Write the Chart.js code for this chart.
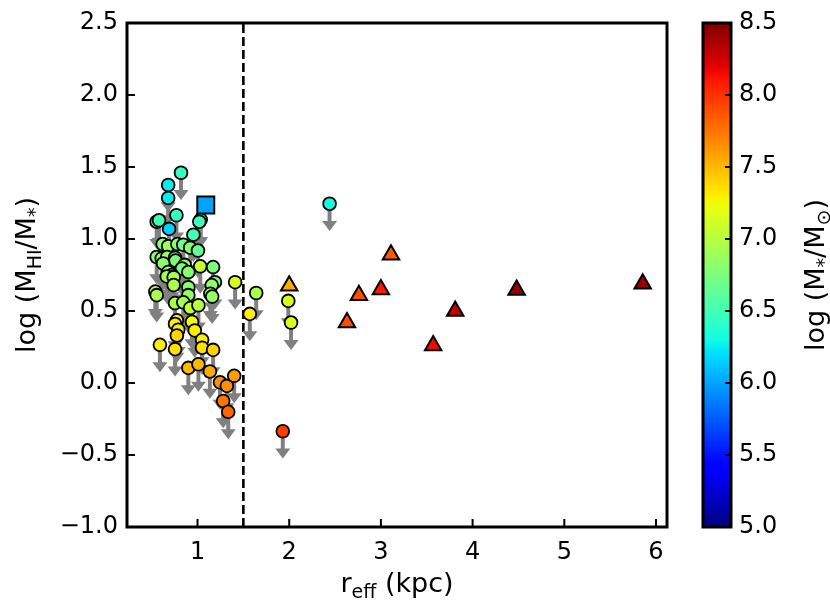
<!DOCTYPE html>
<html>
<head>
<meta charset="utf-8">
<script src="https://cdn.jsdelivr.net/npm/chart.js@4.4.1/dist/chart.umd.min.js"></script>
<style>
  html, body { margin: 0; padding: 0; background: #fff; }
</style>
</head>
<body>
<canvas id="myChart" width="830" height="613"></canvas>
<script>
// galaxies with HI upper limits (circles)
const circleX = [0.82, 0.68, 0.68, 0.77, 0.555, 0.58, 0.69, 1.035, 1.02, 0.955, 2.44,
  0.62, 0.68, 0.78, 0.845, 0.92, 1.005,
  0.555, 0.61, 0.67, 0.755, 0.76,
  0.625, 0.86, 0.83, 1.03, 1.17,
  0.68, 0.72, 0.665, 0.90, 0.74,
  1.19, 1.155, 1.41, 0.74, 0.90,
  0.54, 0.555, 1.14, 1.16, 0.90, 1.64,
  0.755, 0.845, 0.92, 1.01, 1.99, 2.02, 1.57,
  0.775, 0.755, 0.94, 0.97, 0.79, 0.775, 1.05, 0.59, 0.755, 1.05, 1.17,
  0.90, 1.01, 1.135, 1.245, 1.32, 1.40, 1.28, 1.335, 1.93];
const circleY = [1.46, 1.375, 1.285, 1.165, 1.12, 1.13, 1.07, 1.135, 1.12, 1.03, 1.245,
  0.965, 0.95, 0.965, 0.96, 0.94, 0.92,
  0.875, 0.865, 0.875, 0.87, 0.85,
  0.83, 0.82, 0.795, 0.81, 0.805,
  0.77, 0.75, 0.74, 0.77, 0.735,
  0.70, 0.68, 0.70, 0.68, 0.665,
  0.635, 0.61, 0.62, 0.60, 0.61, 0.625,
  0.555, 0.56, 0.52, 0.54, 0.57, 0.42, 0.48,
  0.435, 0.41, 0.425, 0.365, 0.37, 0.33, 0.30, 0.265, 0.235, 0.245, 0.23,
  0.105, 0.13, 0.08, 0.005, -0.02, 0.05, -0.125, -0.20, -0.335];
const circleMass = [6.45, 6.25, 6.25, 6.45, 6.55, 6.5, 6.15, 6.5, 6.5, 6.5, 6.3,
  6.8, 6.9, 6.8, 6.7, 6.8, 6.65,
  6.8, 6.85, 6.9, 6.8, 6.75,
  6.8, 6.85, 6.75, 7.05, 6.75,
  6.85, 6.8, 6.9, 6.8, 6.95,
  6.8, 6.85, 7.15, 6.95, 6.8,
  6.9, 6.95, 6.85, 6.85, 6.85, 6.95,
  6.95, 6.9, 7.05, 7.0, 7.15, 7.15, 7.3,
  7.3, 7.3, 7.25, 7.3, 7.3, 7.4, 7.3, 7.3, 7.35, 7.35, 7.4,
  7.5, 7.5, 7.55, 7.65, 7.65, 7.6, 7.75, 7.8, 7.95];

// detections (triangles)
const triX = [2.00, 2.63, 2.76, 3.00, 3.11, 3.57, 3.81, 4.48, 5.855];
const triY = [0.675, 0.42, 0.61, 0.65, 0.89, 0.26, 0.50, 0.645, 0.69];
const triMass = [7.55, 7.9, 7.9, 8.1, 7.85, 8.15, 8.3, 8.42, 8.42];

// the square
const sqX = [1.09];
const sqY = [1.236];
const sqMass = [6.0];

const xTicks = [1, 2, 3, 4, 5, 6];
const yTicks = [-1.0, -0.5, 0.0, 0.5, 1.0, 1.5, 2.0, 2.5];
const cbTicks = [5.0, 5.5, 6.0, 6.5, 7.0, 7.5, 8.0, 8.5];
const cutLine = 1.5;
const arrowLen = 0.19;   // dex

const massMin = 5.0, massMax = 8.5;

// matplotlib jet
const jetR = [[0, 0], [0.35, 0], [0.66, 1], [0.89, 1], [1, 0.5]];
const jetG = [[0, 0], [0.125, 0], [0.375, 1], [0.64, 1], [0.91, 0], [1, 0]];
const jetB = [[0, 0.5], [0.11, 1], [0.34, 1], [0.65, 0], [1, 0]];
function interp(seg, t) {
  for (let i = 1; i < seg.length; i++) {
    if (t <= seg[i][0]) {
      const a = seg[i - 1], b = seg[i];
      return a[1] + (b[1] - a[1]) * (t - a[0]) / (b[0] - a[0]);
    }
  }
  return seg[seg.length - 1][1];
}
function jet(m) {
  const t = Math.min(1, Math.max(0, (m - massMin) / (massMax - massMin)));
  const c = v => Math.round(255 * v);
  return 'rgb(' + c(interp(jetR, t)) + ',' + c(interp(jetG, t)) + ',' + c(interp(jetB, t)) + ')';
}

const pts = (xs, ys) => xs.map((x, i) => ({ x: x, y: ys[i] }));
const FONT = 'DejaVu Sans';

function richText(ctx, parts, ax, ay, rot, size) {
  const sub = Math.round(size * 0.7);
  ctx.save();
  ctx.translate(ax, ay);
  ctx.rotate(rot);
  ctx.fillStyle = '#000';
  ctx.textBaseline = 'alphabetic';
  ctx.textAlign = 'left';
  let w = 0;
  parts.forEach(p => {
    ctx.font = (p[1] ? sub : size) + 'px "' + FONT + '"';
    w += ctx.measureText(p[0]).width;
  });
  let x = -w / 2;
  parts.forEach(p => {
    ctx.font = (p[1] ? sub : size) + 'px "' + FONT + '"';
    ctx.fillText(p[0], x, p[1] ? 6 : 0);
    x += ctx.measureText(p[0]).width;
  });
  ctx.restore();
}

const deco = {
  id: 'deco',
  beforeDatasetsDraw(chart) {
    const ctx = chart.ctx, xs = chart.scales.x, ys = chart.scales.y, a = chart.chartArea;
    ctx.save();
    ctx.beginPath();
    ctx.rect(a.left, a.top, a.right - a.left, a.bottom - a.top);
    ctx.clip();
    // dashed cut
    const xc = xs.getPixelForValue(cutLine);
    ctx.strokeStyle = '#000';
    ctx.lineWidth = 2.6;
    ctx.setLineDash([9, 4]);
    ctx.beginPath();
    ctx.moveTo(xc, a.bottom);
    ctx.lineTo(xc, a.top);
    ctx.stroke();
    ctx.setLineDash([]);
    // upper limit arrows
    ctx.strokeStyle = '#808080';
    ctx.fillStyle = '#808080';
    circleX.forEach((v, i) => {
      const px = xs.getPixelForValue(v);
      const y0 = ys.getPixelForValue(circleY[i]);
      const tip = ys.getPixelForValue(circleY[i] - arrowLen);
      ctx.lineWidth = 4;
      ctx.beginPath();
      ctx.moveTo(px, y0);
      ctx.lineTo(px, tip - 9);
      ctx.stroke();
      ctx.beginPath();
      ctx.moveTo(px - 7.5, tip - 10);
      ctx.lineTo(px + 7.5, tip - 10);
      ctx.lineTo(px, tip);
      ctx.closePath();
      ctx.fill();
    });
    ctx.restore();
  },
  afterDraw(chart) {
    const ctx = chart.ctx, xs = chart.scales.x, ys = chart.scales.y, cb = chart.scales.cb, a = chart.chartArea;
    ctx.save();
    // inward ticks
    ctx.strokeStyle = '#000';
    ctx.lineWidth = 2;
    xTicks.forEach(v => {
      const px = xs.getPixelForValue(v);
      ctx.beginPath(); ctx.moveTo(px, a.bottom); ctx.lineTo(px, a.bottom - 8); ctx.stroke();
    });
    yTicks.forEach(v => {
      const py = ys.getPixelForValue(v);
      ctx.beginPath(); ctx.moveTo(a.left, py); ctx.lineTo(a.left + 8, py); ctx.stroke();
    });
    // frame
    ctx.lineWidth = 3;
    ctx.strokeRect(a.left, a.top, a.right - a.left, a.bottom - a.top);

    // colour bar
    const cbL = 703, cbR = 731;
    const top = cb.getPixelForValue(massMax), bot = cb.getPixelForValue(massMin);
    const g = ctx.createLinearGradient(0, bot, 0, top);
    for (let m = massMin; m <= massMax + 1e-9; m += 0.05) {
      g.addColorStop(Math.min(1, (m - massMin) / (massMax - massMin)), jet(m));
    }
    ctx.fillStyle = g;
    ctx.fillRect(cbL, top, cbR - cbL, bot - top);
    ctx.lineWidth = 2;
    cbTicks.forEach(v => {
      const py = cb.getPixelForValue(v);
      ctx.beginPath(); ctx.moveTo(cbR, py); ctx.lineTo(cbR - 6, py); ctx.stroke();
    });
    ctx.lineWidth = 3;
    ctx.strokeRect(cbL, top, cbR - cbL, bot - top);
    ctx.restore();

    // axis titles
    richText(ctx, [['r', false], ['eff', true], [' (kpc)', false]], (a.left + a.right) / 2, 592, 0, 27);
    richText(ctx, [['log (M', false], ['HI', true], ['/M', false], ['*', true], [')', false]],
      35, (a.top + a.bottom) / 2, -Math.PI / 2, 27);
    richText(ctx, [['log (M', false], ['*', true], ['/M', false], ['\u2299', true], [')', false]],
      824, (a.top + a.bottom) / 2, -Math.PI / 2, 27);
  }
};

const tickFont = { family: FONT, size: 24 };
const minus = v => (v < 0 ? '\u2212' : '') + Math.abs(v).toFixed(1);
// vertical scales: keep tick padding from growing the top/bottom margins
const noPad = s => { s.paddingTop = 0; s.paddingBottom = 0; };

var ctx = document.getElementById('myChart').getContext('2d');
var chart = new Chart(ctx, {
  type: 'scatter',
  data: {
    datasets: [{
      label: 'detections',
      data: pts(triX, triY),
      pointStyle: 'triangle',
      pointRadius: 9.5,
      pointBackgroundColor: triMass.map(jet),
      pointBorderColor: '#000',
      pointBorderWidth: 2
    }, {
      label: 'square',
      data: pts(sqX, sqY),
      pointStyle: 'rect',
      pointRadius: 12,
      pointBackgroundColor: sqMass.map(jet),
      pointBorderColor: '#000',
      pointBorderWidth: 2
    }, {
      label: 'upper limits',
      data: pts(circleX, circleY),
      pointStyle: 'circle',
      pointRadius: 6.4,
      pointBackgroundColor: circleMass.map(jet),
      pointBorderColor: '#000',
      pointBorderWidth: 1.8
    }]
  },
  options: {
    responsive: false,
    animation: false,
    layout: { padding: { top: 23, left: 0, right: 0, bottom: 0 } },
    plugins: { legend: { display: false }, tooltip: { enabled: false } },
    scales: {
      x: {
        type: 'linear', min: 0.231, max: 6.12,
        afterBuildTicks: s => { s.ticks = xTicks.map(v => ({ value: v })); },
        afterFit: s => { s.height = 613 - 527; s.paddingLeft = 0; s.paddingRight = 0; },
        grid: { display: false, drawTicks: false },
        border: { display: false },
        ticks: { font: tickFont, color: '#000', padding: 11, maxRotation: 0, autoSkip: false,
          callback: v => String(v) }
      },
      y: {
        type: 'linear', min: -1.0, max: 2.5,
        afterBuildTicks: s => { s.ticks = yTicks.map(v => ({ value: v })); },
        afterFit: s => { s.width = 127; noPad(s); },
        grid: { display: false, drawTicks: false },
        border: { display: false },
        ticks: { font: tickFont, color: '#000', padding: 9, autoSkip: false, callback: minus }
      },
      cb: {
        axis: 'y', type: 'linear', position: 'right', min: massMin, max: massMax,
        afterBuildTicks: s => { s.ticks = cbTicks.map(v => ({ value: v })); },
        afterFit: s => { s.width = 830 - 667; noPad(s); },
        grid: { display: false, drawTicks: false },
        border: { display: false },
        ticks: { font: tickFont, color: '#000', padding: 72, autoSkip: false,
          callback: v => v.toFixed(1) }
      }
    }
  },
  plugins: [deco]
});
</script>
</body>
</html>
